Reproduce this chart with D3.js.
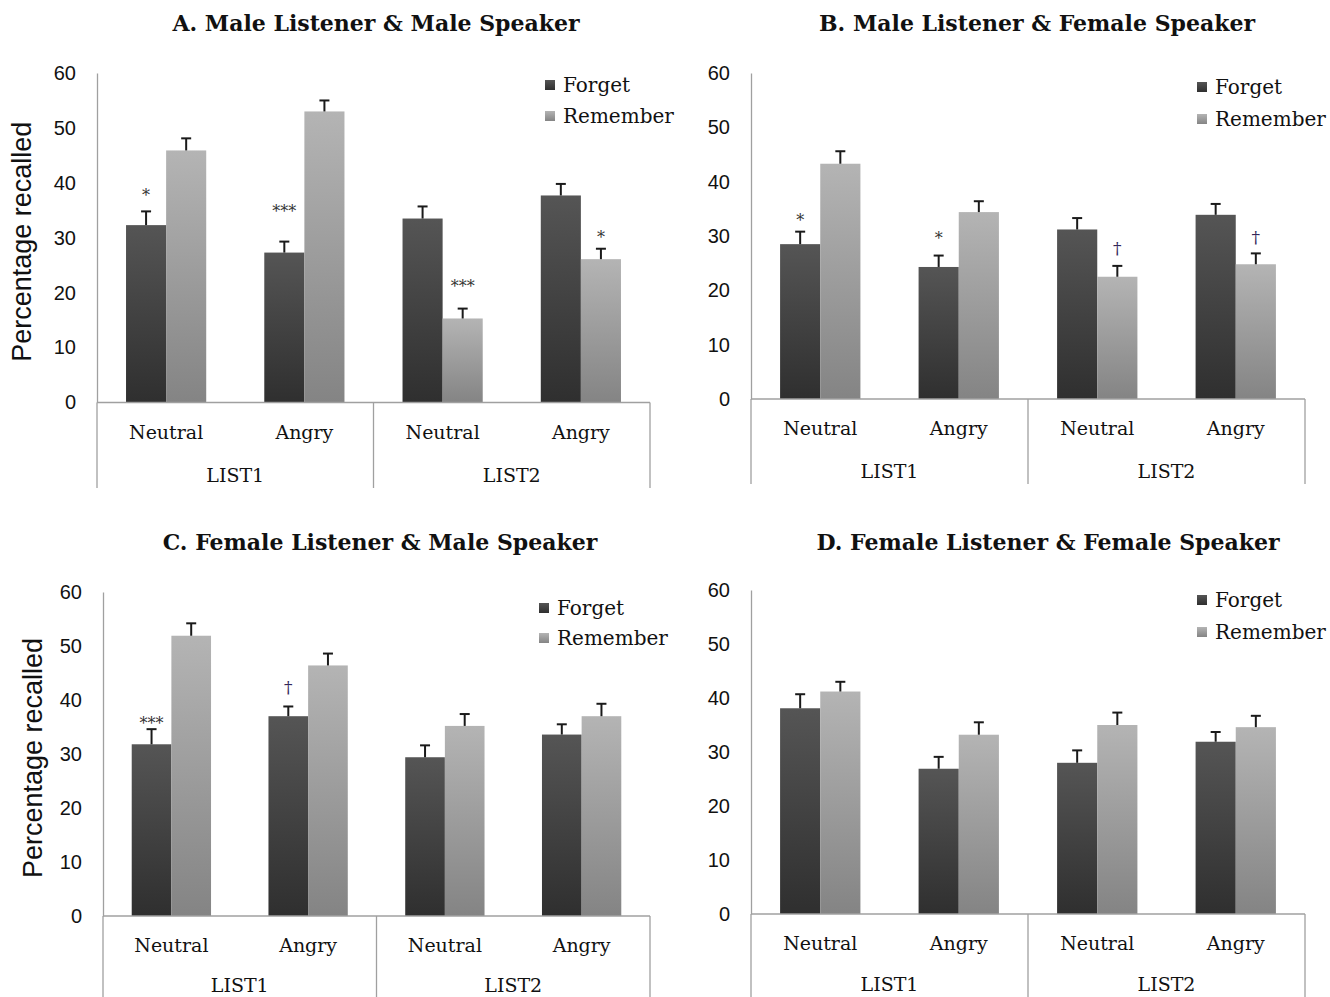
<!DOCTYPE html>
<html>
<head>
<meta charset="utf-8">
<script src="https://cdn.jsdelivr.net/npm/d3@7/dist/d3.min.js"></script>
<style>
  html, body { margin: 0; padding: 0; background: #fff; }
  svg { display: block; }
</style>
</head>
<body>
<svg id="chart" width="1330" height="997"></svg>
<script>
// ---- data -------------------------------------------------------------
const panelTitles = [
  "A. Male Listener & Male Speaker",
  "B. Male Listener & Female Speaker",
  "C. Female Listener & Male Speaker",
  "D. Female Listener & Female Speaker"
];
const conditions = ["Neutral", "Angry", "Neutral", "Angry"];
const lists = ["LIST1", "LIST2"];
const seriesNames = ["Forget", "Remember"];
const yTicks = [0, 10, 20, 30, 40, 50, 60];

// mean percentage recalled per panel, in condition order
const forgetMean   = [[32.3, 27.3, 33.5, 37.7], [28.5, 24.3, 31.2, 33.9], [31.8, 37.0, 29.4, 33.6], [38.1, 26.9, 28.0, 31.9]];
const forgetSE     = [[2.5, 2.0, 2.2, 2.1],     [2.3, 2.1, 2.1, 2.0],     [2.8, 1.8, 2.2, 1.9],     [2.6, 2.2, 2.3, 1.8]];
const rememberMean = [[45.9, 53.0, 15.3, 26.1], [43.3, 34.4, 22.5, 24.8], [51.9, 46.4, 35.2, 37.0], [41.2, 33.2, 35.0, 34.6]];
const rememberSE   = [[2.2, 2.0, 1.8, 1.9],     [2.3, 2.0, 2.0, 2.0],     [2.3, 2.2, 2.2, 2.3],     [1.8, 2.3, 2.3, 2.1]];

// significance markers: panel, condition, series, symbol, level (percent)
const sigPanel  = [0, 0, 0, 0, 1, 1, 1, 1, 2, 2];
const sigCond   = [0, 1, 2, 3, 0, 1, 2, 3, 0, 1];
const sigSeries = [0, 0, 1, 1, 0, 0, 1, 1, 0, 0];
const sigText   = ["*", "***", "***", "*", "*", "*", "\u2020", "\u2020", "***", "\u2020"];
const sigLevel  = [38.8, 35.9, 22.3, 31.2, 34.0, 30.7, 27.8, 29.8, 36.9, 42.4];

// ---- layout -----------------------------------------------------------
const layout = [
  { left: 97,  right: 650,  top: 73,  bottom: 402.5, titleX: 376,  titleY: 31,  frameBottom: 488, legendX: 545,  legendY: [85, 116],  yTitleX: 22, listDy: 79 },
  { left: 751, right: 1305, top: 73,  bottom: 399,   titleX: 1037, titleY: 31,  frameBottom: 484, legendX: 1197, legendY: [87, 119],  yTitleX: null, listDy: 79 },
  { left: 103, right: 650,  top: 592, bottom: 916,   titleX: 380,  titleY: 550, frameBottom: 997, legendX: 539,  legendY: [608, 638], yTitleX: 33, listDy: 76 },
  { left: 751, right: 1305, top: 590, bottom: 914,   titleX: 1048, titleY: 550, frameBottom: 997, legendX: 1197, legendY: [600, 632], yTitleX: null, listDy: 77 }
];

const serif = "'DejaVu Serif', 'Liberation Serif', serif";
const sans = "'Liberation Sans', Arial, sans-serif";
const axisGray = "#a0a0a0";

const svg = d3.select("#chart");
const defs = svg.append("defs");

// vertical shading of the bars
const gradStops = [["#555555", "#2f2f2f"], ["#b4b4b4", "#848484"]];
seriesNames.forEach((s, i) => {
  const g = defs.append("linearGradient")
    .attr("id", "grad" + i)
    .attr("x1", 0).attr("y1", 0).attr("x2", 0).attr("y2", 1);
  g.append("stop").attr("offset", "0%").attr("stop-color", gradStops[i][0]);
  g.append("stop").attr("offset", "100%").attr("stop-color", gradStops[i][1]);
});

const means = [forgetMean, rememberMean];
const errs = [forgetSE, rememberSE];

layout.forEach((L, p) => {
  const g = svg.append("g");

  const y = d3.scaleLinear().domain([0, 60]).range([L.bottom, L.top]);
  const x = d3.scaleBand().domain(d3.range(conditions.length))
    .range([L.left, L.right]).paddingInner(0.42).paddingOuter(0.21);
  const xs = d3.scaleBand().domain(d3.range(seriesNames.length)).range([0, x.bandwidth()]);
  const step = x.step();

  // title
  g.append("text")
    .attr("x", L.titleX).attr("y", L.titleY)
    .attr("text-anchor", "middle")
    .style("font-family", serif).style("font-weight", "bold").style("font-size", "22px")
    .attr("fill", "#111")
    .text(panelTitles[p]);

  // y axis
  const ax = g.append("g")
    .attr("transform", `translate(${L.left},0)`)
    .call(d3.axisLeft(y).tickValues(yTicks).tickSize(0).tickSizeOuter(0).tickPadding(21));
  ax.select(".domain").attr("stroke", axisGray).attr("stroke-width", 1.3);
  ax.selectAll("text")
    .style("font-family", sans).style("font-size", "20px").attr("fill", "#111");

  if (L.yTitleX !== null) {
    g.append("text")
      .attr("transform", `translate(${L.yTitleX},${(L.top + L.bottom) / 2 + 4}) rotate(-90)`)
      .attr("text-anchor", "middle").attr("dy", "0.35em")
      .style("font-family", sans).style("font-size", "27px").attr("fill", "#111")
      .text("Percentage recalled");
  }

  // bars
  const bars = [];
  conditions.forEach((c, ci) => {
    seriesNames.forEach((s, si) => {
      bars.push({ ci, si, v: means[si][p][ci], e: errs[si][p][ci] });
    });
  });

  g.selectAll("rect.bar").data(bars).enter().append("rect")
    .attr("class", "bar")
    .attr("x", d => x(d.ci) + xs(d.si))
    .attr("width", xs.bandwidth())
    .attr("y", d => y(d.v))
    .attr("height", d => y(0) - y(d.v))
    .attr("fill", d => `url(#grad${d.si})`);

  // error bars (upper half only)
  const eb = g.selectAll("g.err").data(bars).enter().append("g").attr("class", "err")
    .attr("stroke", "#1a1a1a").attr("stroke-width", 2);
  eb.append("line")
    .attr("x1", d => x(d.ci) + xs(d.si) + xs.bandwidth() / 2)
    .attr("x2", d => x(d.ci) + xs(d.si) + xs.bandwidth() / 2)
    .attr("y1", d => y(d.v)).attr("y2", d => y(d.v + d.e));
  eb.append("line")
    .attr("x1", d => x(d.ci) + xs(d.si) + xs.bandwidth() / 2 - 5)
    .attr("x2", d => x(d.ci) + xs(d.si) + xs.bandwidth() / 2 + 5)
    .attr("y1", d => y(d.v + d.e)).attr("y2", d => y(d.v + d.e));

  // category axis with grouped frame
  g.append("line")
    .attr("x1", L.left).attr("x2", L.right)
    .attr("y1", y(0)).attr("y2", y(0))
    .attr("stroke", axisGray).attr("stroke-width", 1.3);
  const dividers = [L.left, L.left + step * 2, L.right];
  g.selectAll("line.frame").data(dividers).enter().append("line")
    .attr("class", "frame")
    .attr("x1", d => d).attr("x2", d => d)
    .attr("y1", y(0)).attr("y2", L.frameBottom)
    .attr("stroke", axisGray).attr("stroke-width", 1.3);

  g.selectAll("text.cat").data(conditions).enter().append("text")
    .attr("class", "cat")
    .attr("x", (d, i) => x(i) + x.bandwidth() / 2)
    .attr("y", y(0) + 36)
    .attr("text-anchor", "middle")
    .style("font-family", serif).style("font-size", "19px").attr("fill", "#111")
    .text(d => d);

  g.selectAll("text.list").data(lists).enter().append("text")
    .attr("class", "list")
    .attr("x", (d, i) => L.left + step * (2 * i + 1))
    .attr("y", y(0) + L.listDy)
    .attr("text-anchor", "middle")
    .style("font-family", serif).style("font-size", "19px").attr("fill", "#111")
    .text(d => d);

  // legend
  seriesNames.forEach((s, si) => {
    g.append("rect")
      .attr("x", L.legendX).attr("y", L.legendY[si] - 5)
      .attr("width", 10).attr("height", 10)
      .attr("fill", `url(#grad${si})`);
    g.append("text")
      .attr("x", L.legendX + 18).attr("y", L.legendY[si])
      .attr("dy", "0.35em")
      .style("font-family", serif).style("font-size", "20px").attr("fill", "#111")
      .text(s);
  });

  // significance markers
  sigPanel.forEach((sp, k) => {
    if (sp !== p) return;
    const isDagger = sigText[k] === "\u2020";
    g.append("text")
      .attr("x", x(sigCond[k]) + xs(sigSeries[k]) + xs.bandwidth() / 2)
      .attr("y", y(sigLevel[k]))
      .attr("dy", isDagger ? "0.35em" : "0.75em")
      .attr("text-anchor", "middle")
      .style("font-family", serif)
      .style("font-size", isDagger ? "17px" : "16px")
      .attr("fill", isDagger ? "#33285a" : "#333")
      .text(sigText[k]);
  });
});
</script>
</body>
</html>
